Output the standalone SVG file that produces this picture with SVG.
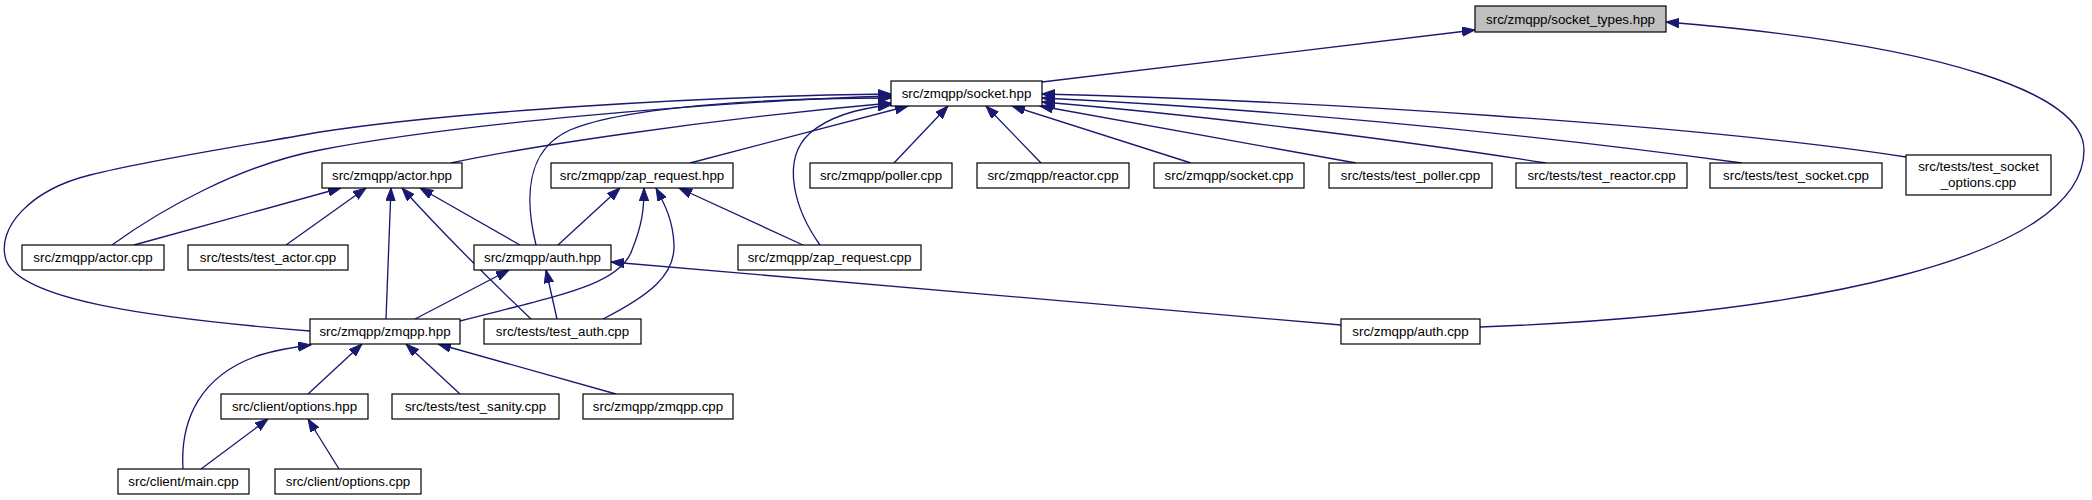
<svg xmlns="http://www.w3.org/2000/svg" width="2092" height="500" viewBox="0 0 2092 500">
<defs>
<style>
.n rect{fill:#fff;stroke:#000;stroke-width:1.2}
.n.g rect{fill:#bfbfbf}
.n text{font-family:"Liberation Sans",Arial,sans-serif;font-size:13.33px;text-anchor:middle;fill:#000}
.e path{fill:none;stroke:#191970;stroke-width:1.33;marker-end:url(#ah)}
</style>
<marker id="ah" markerUnits="userSpaceOnUse" markerWidth="14" markerHeight="10" refX="13" refY="4.7" orient="auto" viewBox="0 0 14 10">
<path d="M0,0 L13,4.7 L0,9.4 z" fill="#191970" stroke="#191970" stroke-width="1"/>
</marker>
</defs>
<rect width="2092" height="500" fill="#fff"/>
<g id="edges" class="e">
<path d="M1042,82 L1475,30"/>
<path d="M1480,327 C1800,315 2084,260 2084,150 C2084,95 1950,45 1666,22"/>
<path d="M310,331 C150,318 20,300 6,260 C-4,228 30,190 90,175 C150,160 230,148 320,132 C450,112 700,96 891,94"/>
<path d="M112,245 C160,210 240,165 320,150 C450,125 700,102 891,96"/>
<path d="M536,245 C525,200 525,150 570,130 C630,105 780,98 891,98"/>
<path d="M451,163 C520,148 700,120 891,103"/>
<path d="M820,245 C795,210 780,160 810,133 C830,116 860,108 891,105"/>
<path d="M690,163 L908,106"/>
<path d="M894,163 L948,106"/>
<path d="M1041,163 L986,106"/>
<path d="M1191,163 L1012,106"/>
<path d="M1356,163 L1040,106"/>
<path d="M1546,163 C1400,140 1200,115 1042,102"/>
<path d="M1742,163 C1500,130 1250,108 1042,98"/>
<path d="M1906,157 C1700,125 1300,100 1042,94"/>
<path d="M134,245 L341,188"/>
<path d="M286,245 L366,188"/>
<path d="M386,319 L391,188"/>
<path d="M531,319 C490,280 440,230 402,188"/>
<path d="M520,245 L420,188"/>
<path d="M558,245 L620,188"/>
<path d="M460,321 C560,295 620,285 632,250 C642,225 644,210 644,188"/>
<path d="M603,319 C650,295 675,275 674,245 C673,220 665,205 656,188"/>
<path d="M803,245 L679,188"/>
<path d="M415,319 L509,270"/>
<path d="M557,319 L546,270"/>
<path d="M1341,325 L611,262"/>
<path d="M183,469 C180,420 200,375 260,355 C280,349 295,347 311,345"/>
<path d="M308,394 L362,344"/>
<path d="M460,394 L406,344"/>
<path d="M616,394 L438,344"/>
<path d="M201,469 L268,419"/>
<path d="M339,469 L308,419"/>
</g>
<g id="n1" class="n g"><rect x="1475" y="6" width="191" height="26"/><text x="1570.5" y="23.5">src/zmqpp/socket_types.hpp</text></g>
<g id="n2" class="n"><rect x="891" y="81" width="151" height="25"/><text x="966.5" y="97.5">src/zmqpp/socket.hpp</text></g>
<g id="n3" class="n"><rect x="322" y="163" width="140" height="25"/><text x="392" y="179.5">src/zmqpp/actor.hpp</text></g>
<g id="n4" class="n"><rect x="551" y="163" width="182" height="25"/><text x="642" y="179.5">src/zmqpp/zap_request.hpp</text></g>
<g id="n5" class="n"><rect x="810" y="163" width="142" height="25"/><text x="881" y="179.5">src/zmqpp/poller.cpp</text></g>
<g id="n6" class="n"><rect x="977" y="163" width="152" height="25"/><text x="1053" y="179.5">src/zmqpp/reactor.cpp</text></g>
<g id="n7" class="n"><rect x="1154" y="163" width="150" height="25"/><text x="1229" y="179.5">src/zmqpp/socket.cpp</text></g>
<g id="n8" class="n"><rect x="1329" y="163" width="163" height="25"/><text x="1410.5" y="179.5">src/tests/test_poller.cpp</text></g>
<g id="n9" class="n"><rect x="1516" y="163" width="171" height="25"/><text x="1601.5" y="179.5">src/tests/test_reactor.cpp</text></g>
<g id="n10" class="n"><rect x="1710" y="163" width="172" height="25"/><text x="1796" y="179.5">src/tests/test_socket.cpp</text></g>
<g id="n11" class="n"><rect x="1906" y="155" width="145" height="40"/><text x="1978.5" y="170.5">src/tests/test_socket</text><text x="1978.5" y="186.5">_options.cpp</text></g>
<g id="n12" class="n"><rect x="22" y="245" width="142" height="25"/><text x="93" y="261.5">src/zmqpp/actor.cpp</text></g>
<g id="n13" class="n"><rect x="188" y="245" width="160" height="25"/><text x="268" y="261.5">src/tests/test_actor.cpp</text></g>
<g id="n14" class="n"><rect x="474" y="245" width="137" height="25"/><text x="542.5" y="261.5">src/zmqpp/auth.hpp</text></g>
<g id="n15" class="n"><rect x="738" y="245" width="183" height="25"/><text x="829.5" y="261.5">src/zmqpp/zap_request.cpp</text></g>
<g id="n16" class="n"><rect x="310" y="319" width="150" height="25"/><text x="385" y="335.5">src/zmqpp/zmqpp.hpp</text></g>
<g id="n17" class="n"><rect x="484" y="319" width="157" height="25"/><text x="562.5" y="335.5">src/tests/test_auth.cpp</text></g>
<g id="n18" class="n"><rect x="1341" y="319" width="139" height="25"/><text x="1410.5" y="335.5">src/zmqpp/auth.cpp</text></g>
<g id="n19" class="n"><rect x="221" y="394" width="147" height="25"/><text x="294.5" y="410.5">src/client/options.hpp</text></g>
<g id="n20" class="n"><rect x="392" y="394" width="167" height="25"/><text x="475.5" y="410.5">src/tests/test_sanity.cpp</text></g>
<g id="n21" class="n"><rect x="583" y="394" width="150" height="25"/><text x="658" y="410.5">src/zmqpp/zmqpp.cpp</text></g>
<g id="n22" class="n"><rect x="118" y="469" width="131" height="25"/><text x="183.5" y="485.5">src/client/main.cpp</text></g>
<g id="n23" class="n"><rect x="275" y="469" width="146" height="25"/><text x="348" y="485.5">src/client/options.cpp</text></g>
</svg>
